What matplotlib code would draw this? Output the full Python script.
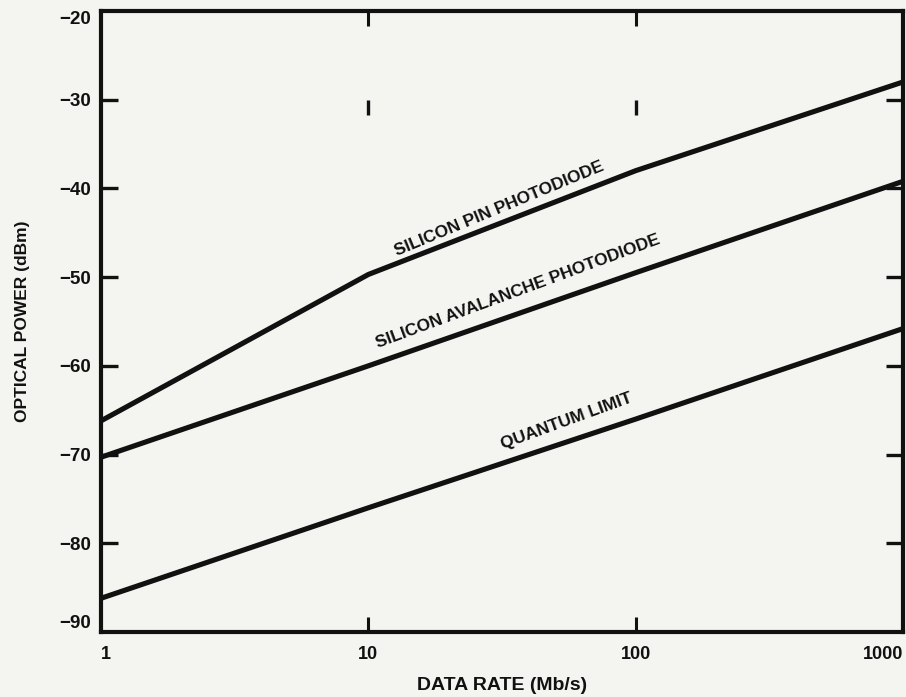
import numpy as np
from matplotlib import pyplot as plt
import matplotlib as mpl

# data (dBm vs Mb/s)
RATE        = [1, 10, 100, 1000]
PIN_PHOTO   = [-66.2, -49.7, -38.0, -28.0]
APD_PHOTO   = [-70.3, -60.0, -49.5, -39.2]
QUANTUM_LIM = [-86.2, -76.0, -66.0, -55.8]

YTICKS = [-90, -80, -70, -60, -50, -40, -30, -20]
XTICKS = [1, 10, 100, 1000]
XTICK_LABELS = ["1", "10", "100", "1000"]

# inline curve labels: text, x, y, angle
LABELS = [
    ("SILICON PIN PHOTODIODE", 31.0, -42.3, 22.5),
    ("SILICON AVALANCHE PHOTODIODE", 36.3, -51.6, 20.3),
    ("QUANTUM LIMIT", 55.4, -66.2, 20.0),
]

# stray register marks near -30 dBm
MARK_X = [10, 100]
MARK_Y = [-30.0, -31.7]

BG = "#f4f4f1"
INK = "#111111"

plt.rcParams['font.family'] = ['Liberation Sans', 'DejaVu Sans']

fig = plt.figure(figsize=(9.06, 6.97), dpi=100, facecolor=BG)
ax = fig.add_axes([101/906, 1 - 632/697, 802/906, 621/697])
ax.set_facecolor(BG)

for yy in (PIN_PHOTO, APD_PHOTO, QUANTUM_LIM):
    ax.plot(RATE, yy, color=INK, lw=3.7, solid_capstyle='butt', clip_on=True)

for txt, x, y, ang in LABELS:
    ax.text(x, y, txt, rotation=ang, rotation_mode='anchor', ha='center', va='center',
            fontsize=12.5, fontweight='bold', color=INK)

for mx in MARK_X:
    ax.plot([mx, mx], MARK_Y, color=INK, lw=2.4, solid_capstyle='butt')

ax.set_xscale('log')
ax.set_xlim(1, 1000)
ax.set_ylim(-90, -20)

ax.set_yticks(YTICKS)
ax.set_yticklabels([u"\u2212%d" % abs(v) for v in YTICKS])
ax.set_xticks(XTICKS)
ax.set_xticklabels(XTICK_LABELS)
ax.xaxis.set_minor_locator(mpl.ticker.NullLocator())

ax.tick_params(axis='y', which='major', direction='in', length=12, width=2.4,
               left=True, right=True, labelsize=13.5, pad=7, colors=INK)
ax.tick_params(axis='x', which='major', direction='in', length=11, width=2.2,
               top=True, bottom=True, labelsize=13, pad=10, colors=INK)
for lab in ax.get_xticklabels() + ax.get_yticklabels():
    lab.set_fontweight('bold')
xl = ax.get_xticklabels()
xl[0].set_horizontalalignment('left')
xl[-1].set_horizontalalignment('right')
yl = ax.get_yticklabels()
yl[0].set_verticalalignment('bottom')
yl[-1].set_verticalalignment('top')

# end ticks sit on the corners; hide those so only inner marks show
for t in ax.xaxis.get_major_ticks():
    if t.get_loc() in (1, 1000):
        t.tick1line.set_visible(False)
        t.tick2line.set_visible(False)
for t in ax.yaxis.get_major_ticks():
    if t.get_loc() in (-90, -20):
        t.tick1line.set_visible(False)
        t.tick2line.set_visible(False)

for sp in ax.spines.values():
    sp.set_linewidth(3.0)
    sp.set_color(INK)

ax.set_xlabel("DATA RATE (Mb/s)", fontsize=14, fontweight='bold', labelpad=10, color=INK)
ax.set_ylabel("OPTICAL POWER (dBm)", fontsize=12.5, fontweight='bold', labelpad=21, color=INK)

fig.savefig("out.png", dpi=100, facecolor=BG)
